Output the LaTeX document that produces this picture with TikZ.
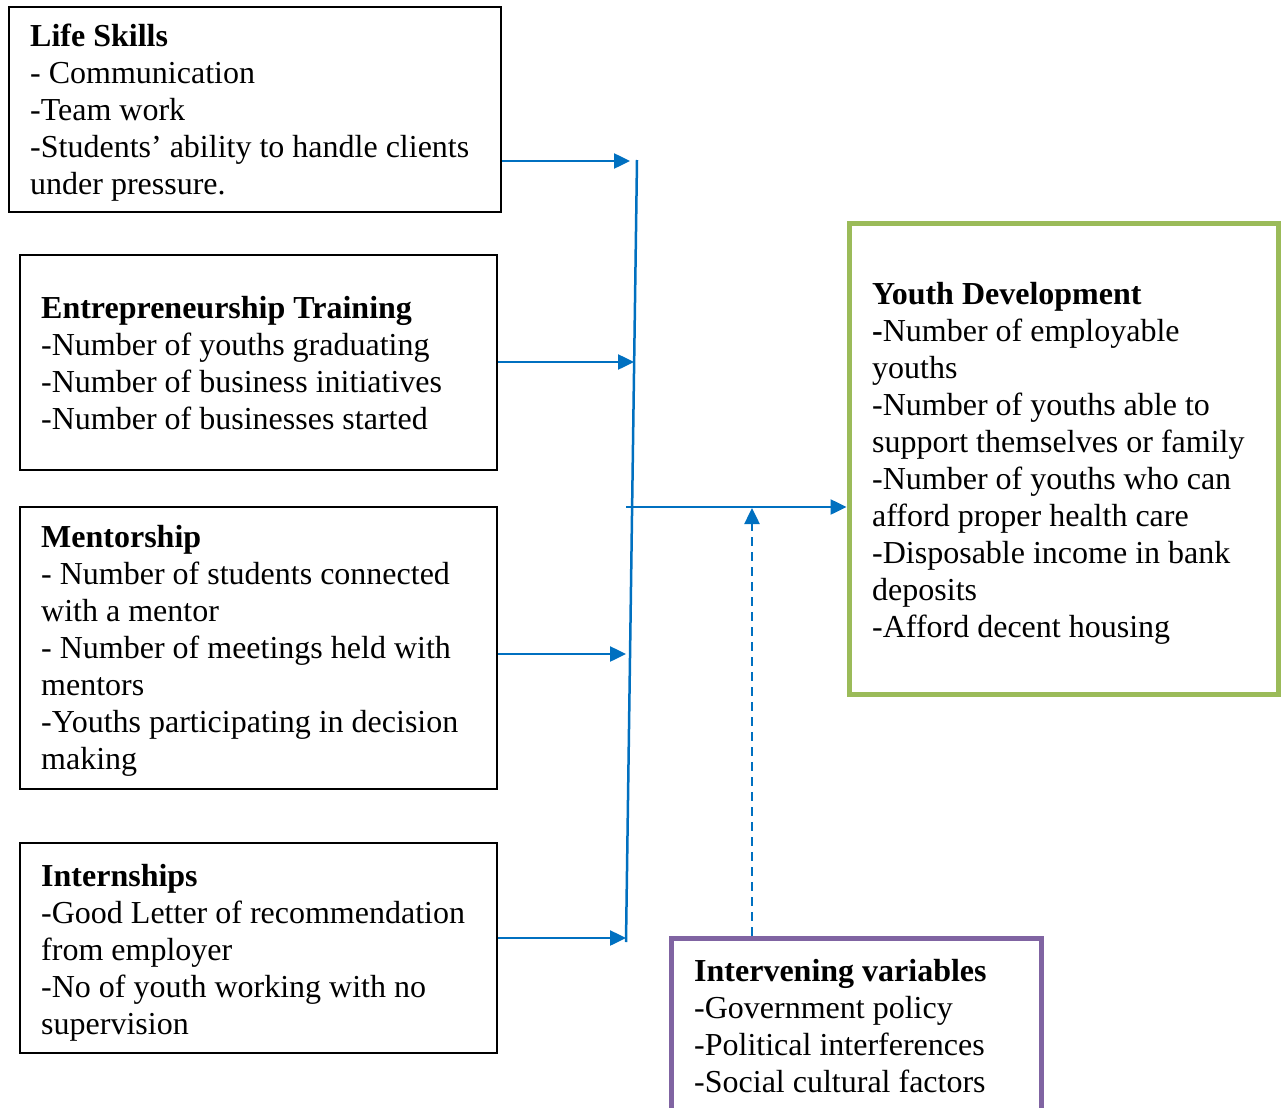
\documentclass[tikz,border=0pt]{standalone}
\usepackage{fontspec}
\setmainfont{Liberation Serif}
\usetikzlibrary{arrows.meta}
\definecolor{flowblue}{HTML}{0070C0}
\definecolor{outgreen}{HTML}{9BBB59}
\definecolor{midpurple}{HTML}{8064A2}
% fixed height for the first line of every text block
\newcommand{\firstline}{\rule{0pt}{24pt}}
\begin{document}
\begin{tikzpicture}[x=1pt,y=-1pt,
  panel/.style={draw=black, line width=2.5pt, rectangle, inner sep=0pt},
  greenpanel/.style={panel, draw=outgreen, line width=5pt},
  purplepanel/.style={panel, draw=midpurple, line width=5pt},
  txt/.style={anchor=north west, align=left, inner sep=0pt,
    font=\fontsize{32}{37}\selectfont},
  bline/.style={draw=flowblue, line width=2.5pt},
  flow/.style={bline, -{Triangle[length=16pt,width=15pt]}},
  dotflow/.style={flow, dash pattern=on 9pt off 6pt}]
\useasboundingbox (0,0) rectangle (1286,1108);
\clip (0,0) rectangle (1286,1108);
\fill[white] (0,0) rectangle (1286,1108);

% input boxes
\node[panel, minimum width=492pt, minimum height=205pt] (life) at (255,109.5) {};
\node[panel, minimum width=477pt, minimum height=215pt] (ent) at (258.5,362.5) {};
\node[panel, minimum width=477pt, minimum height=282pt] (men) at (258.5,648) {};
\node[panel, minimum width=477pt, minimum height=210pt] (intern) at (258.5,948) {};
% outcome and intervening boxes
\node[greenpanel, minimum width=429pt, minimum height=471pt] (youth) at (1063.5,458.5) {};
\node[purplepanel, minimum width=370pt, minimum height=178pt] (interv) at (856,1027) {};

% box texts (first baseline = y + 24)
\node[txt] (lifetxt) at (30,22) {\firstline\textbf{Life Skills}\\- Communication\\-Team work\\-Students’ ability to handle clients\\under pressure.};
\node[txt] (enttxt) at (41,294) {\firstline\textbf{Entrepreneurship Training}\\-Number of youths graduating\\-Number of business initiatives\\-Number of businesses started};
\node[txt] (mentxt) at (41,523) {\firstline\textbf{Mentorship}\\- Number of students connected\\with a mentor\\- Number of meetings held with\\mentors\\-Youths participating in decision\\making};
\node[txt] (inttxt) at (41,862) {\firstline\textbf{Internships}\\-Good Letter of recommendation\\from employer\\-No of youth working with no\\supervision};
\node[txt] (youthtxt) at (872,280) {\firstline\textbf{Youth Development}\\\textbf{-}Number of employable\\youths\\-Number of youths able to\\support themselves or family\\-Number of youths who can\\afford proper health care\\-Disposable income in bank\\deposits\\-Afford decent housing};
\node[txt] (intervtxt) at (694,957) {\firstline\textbf{Intervening variables}\\-Government policy\\-Political interferences\\-Social cultural factors};

% connector end points
\coordinate (a1) at (630,161);
\coordinate (a2) at (634,362);
\coordinate (a3) at (626,654);
\coordinate (a4) at (626,938);
\coordinate (vtop) at (637,160);
\coordinate (vbot) at (626,942);
\coordinate (hstart) at (626,507);
\coordinate (dtop) at (752,508);

% connectors
\draw[flow] (life.east |- a1) -- (a1);
\draw[flow] (ent.east |- a2) -- (a2);
\draw[flow] (men.east |- a3) -- (a3);
\draw[flow] (intern.east |- a4) -- (a4);
\draw[bline] (vtop) -- (vbot);
\draw[flow] (hstart) -- (youth.west |- hstart);
\draw[dotflow] (interv.north -| dtop) -- (dtop);
\end{tikzpicture}
\end{document}
